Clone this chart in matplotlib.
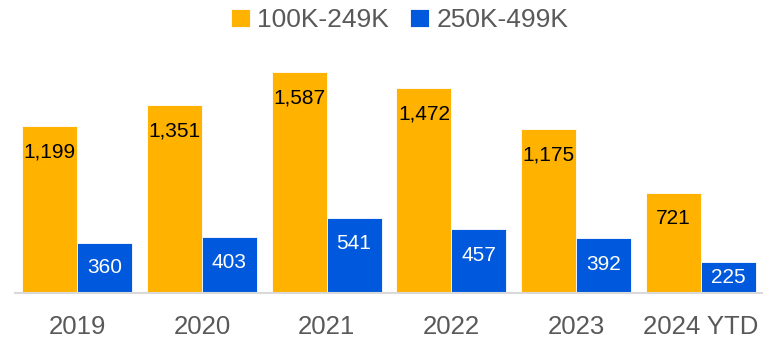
import numpy as np
import matplotlib.pyplot as plt

years = ["2019", "2020", "2021", "2022", "2023", "2024 YTD"]
low_band = [1199, 1351, 1587, 1472, 1175, 721]
high_band = [360, 403, 541, 457, 392, 225]

plt.rcParams['font.family'] = ['Liberation Sans', 'DejaVu Sans']

fig = plt.figure(figsize=(7.63, 3.4), dpi=100)
ax = fig.add_axes([15 / 763, 1 - 293 / 340, 748 / 763, 253 / 340])

x = np.arange(len(years))
w = 0.44
b1 = ax.bar(x - w / 2, low_band, w, color='#FFB300', edgecolor='white', linewidth=0.6, label='100K-249K')
b2 = ax.bar(x + w / 2, high_band, w, color='#0058DC', edgecolor='white', linewidth=0.6, label='250K-499K')

ax.set_xlim(-0.5, 5.5)
ax.set_ylim(0, 1816)

# value labels sit just inside the top of each bar
px = 1816 / 253
for bars, vals, col in [(b1, low_band, 'black'), (b2, high_band, 'white')]:
    for r, v in zip(bars, vals):
        y = max(v - 26 * px, v / 2)
        ax.text(r.get_x() + r.get_width() / 2, y, f"{v:,}", ha='center', va='center',
                fontsize=15, color=col)

ax.set_xticks(x)
ax.set_xticklabels(years, fontsize=18.5, color='#595959')
ax.tick_params(axis='x', length=0, pad=16)
ax.set_yticks([])
for s in ['top', 'right', 'left']:
    ax.spines[s].set_visible(False)
ax.spines['bottom'].set_color('#D9D9D9')
ax.spines['bottom'].set_linewidth(1.5)

fig.legend(handles=[b1, b2], loc='upper center', bbox_to_anchor=(0.524, 1.045), ncol=2,
           frameon=False, fontsize=19, handlelength=0.7, handleheight=0.7,
           handletextpad=0.3, columnspacing=0.8, labelcolor='#595959')

fig.savefig('out.png', dpi=100)
